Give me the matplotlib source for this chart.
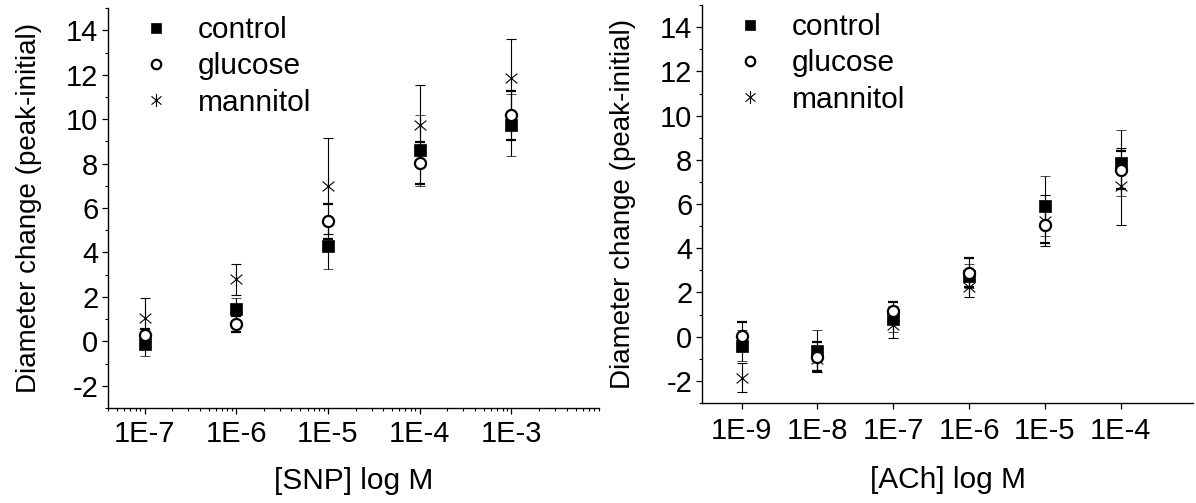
import numpy as np
import matplotlib.pyplot as plt
from matplotlib.path import Path
from matplotlib.ticker import FixedLocator, FixedFormatter, LogLocator, MultipleLocator, NullFormatter

plt.rcParams['font.family'] = ['Liberation Sans', 'DejaVu Sans']
plt.rcParams['axes.unicode_minus'] = False

# SNP panel
snp_conc = [1e-7, 1e-6, 1e-5, 1e-4, 1e-3]
snp_control = [-0.1, 1.45, 4.27, 8.6, 9.73]
snp_control_err = [0.55, 0.5, 1.0, 1.6, 1.4]
snp_glucose = [0.27, 0.77, 5.4, 8.04, 10.18]
snp_glucose_err = [0.3, 0.36, 0.8, 0.95, 1.1]
snp_mannitol = [1.05, 2.8, 7.0, 9.73, 11.85]
snp_mannitol_err = [0.9, 0.7, 2.15, 1.8, 1.75]
snp_ticklabels = ['1E-7', '1E-6', '1E-5', '1E-4', '1E-3']

# ACh panel
ach_conc = [1e-9, 1e-8, 1e-7, 1e-6, 1e-5, 1e-4]
ach_control = [-0.4, -0.65, 0.8, 2.75, 5.9, 7.85]
ach_control_err = [0.7, 0.95, 0.6, 0.55, 1.35, 1.5]
ach_glucose = [0.05, -0.9, 1.15, 2.9, 5.05, 7.55]
ach_glucose_err = [0.6, 0.65, 0.4, 0.65, 0.8, 0.85]
ach_mannitol = [-1.85, -1.0, 0.55, 2.25, 5.25, 6.8]
ach_mannitol_err = [0.65, 0.6, 0.6, 0.45, 1.15, 1.75]
ach_ticklabels = ['1E-9', '1E-8', '1E-7', '1E-6', '1E-5', '1E-4']

# asterisk like the original: vertical bar plus two steep diagonals
a = np.deg2rad(40)
c, s = np.cos(a), np.sin(a)
star = Path([(0, -1), (0, 1), (-c, -s), (c, s), (-c, s), (c, -s)],
            [Path.MOVETO, Path.LINETO] * 3)


def panel(ax, x, ctrl, ctrl_e, glu, glu_e, man, man_e, ticklabels, xlim, xlabel,
          xpad, xlabelpad):
    ebkw = dict(ecolor='black', elinewidth=0.8, capsize=3.3, capthick=0.8, linestyle='none')
    ax.errorbar(x, man, yerr=man_e, marker=star, markersize=11, markeredgewidth=0.8,
                markerfacecolor='none', markeredgecolor='black', color='black',
                label='mannitol', **ebkw)
    ax.errorbar(x, ctrl, yerr=ctrl_e, marker='s', markersize=8, color='black',
                markeredgewidth=0.5, label='control', **ebkw)
    ax.errorbar(x, glu, yerr=glu_e, marker='o', markersize=8, markerfacecolor='white',
                markeredgecolor='black', markeredgewidth=1.6, label='glucose', **ebkw)

    ax.set_xscale('log')
    ax.set_xlim(*xlim)
    ax.set_ylim(-3, 15)
    ax.xaxis.set_major_locator(FixedLocator(x))
    ax.xaxis.set_major_formatter(FixedFormatter(ticklabels))
    ax.xaxis.set_minor_locator(LogLocator(base=10, subs=range(2, 10)))
    ax.xaxis.set_minor_formatter(NullFormatter())
    ax.yaxis.set_major_locator(MultipleLocator(2))
    ax.yaxis.set_minor_locator(MultipleLocator(1))

    for sp in ['top', 'right']:
        ax.spines[sp].set_visible(False)
    for sp in ['left', 'bottom']:
        ax.spines[sp].set_linewidth(1.0)
    ax.tick_params(which='major', direction='out', length=4, width=0.9, labelsize=21, pad=3)
    ax.tick_params(which='minor', direction='out', length=2.5, width=0.8)
    ax.tick_params(axis='x', which='major', pad=xpad)

    ax.set_ylabel('Diameter change (peak-initial)', fontsize=20, labelpad=17)
    ax.set_xlabel(xlabel, fontsize=21.5, labelpad=xlabelpad)

    handles, labels = ax.get_legend_handles_labels()
    order = [1, 2, 0]
    ax.legend([handles[i][0] for i in order], [labels[i] for i in order],
              loc='upper left', bbox_to_anchor=(0.073, 0.98), frameon=False,
              fontsize=21.5, handlelength=0.8, handletextpad=1.0,
              labelspacing=0.28, borderpad=0, borderaxespad=0, markerscale=0.85)


fig = plt.figure(figsize=(11.96, 5.03), dpi=100)
ax1 = fig.add_axes([0.0903, 0.1889, 0.4105, 0.795])
ax2 = fig.add_axes([0.587, 0.1988, 0.4105, 0.791])

panel(ax1, snp_conc, snp_control, snp_control_err, snp_glucose, snp_glucose_err,
      snp_mannitol, snp_mannitol_err, snp_ticklabels, (4e-8, 9e-3), '[SNP] log M',
      5, 13)
panel(ax2, ach_conc, ach_control, ach_control_err, ach_glucose, ach_glucose_err,
      ach_mannitol, ach_mannitol_err, ach_ticklabels, (3e-10, 9e-4), '[ACh] log M',
      6, 15)

fig.savefig('out.png', dpi=100)
